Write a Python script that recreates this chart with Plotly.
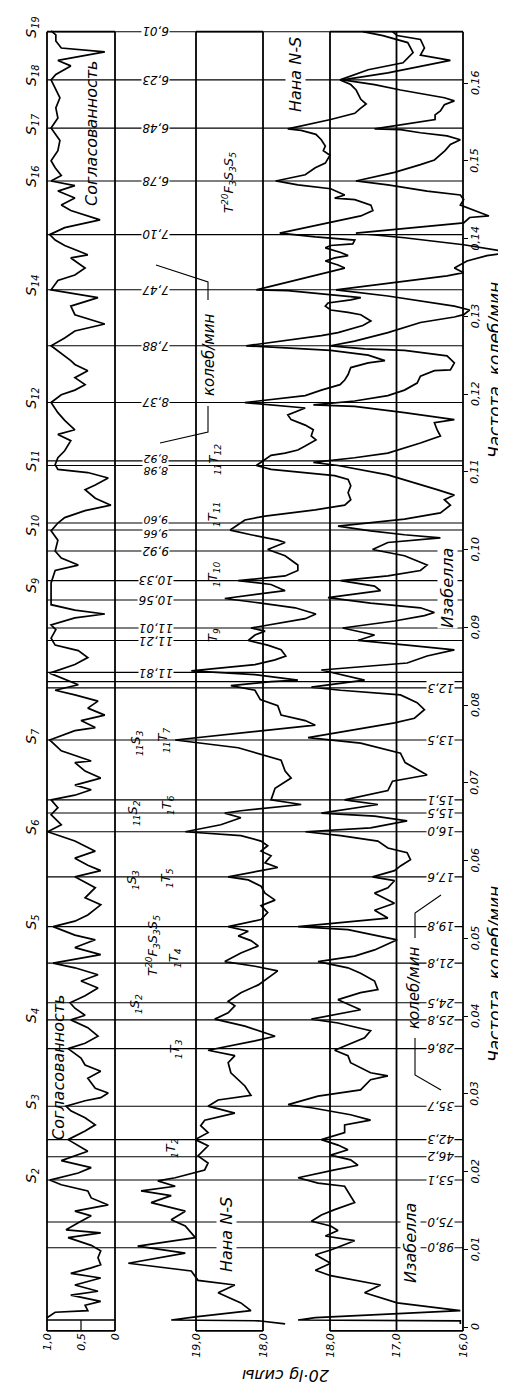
import plotly.graph_objects as go

# ---------------- data ----------------
# horizontal reference lines: printed period (min) and frequency where the line is drawn (cycles/min)
low_labels = ["98,0", "75,0", "53,1", "46,2", "42,3", "35,7", "28,6", "25,8", "24,5",
              "21,8", "19,8", "17,6", "16,0", "15,5", "15,1", "13,5", "12,3"]
low_freq = [0.0102, 0.0135, 0.0189, 0.0219, 0.0241, 0.0284, 0.0358, 0.0395, 0.0417,
            0.0468, 0.0515, 0.0579, 0.0637, 0.0661, 0.0678, 0.0755, 0.0822]
high_labels = ["11,81", "11,21", "11,01", "10,56", "10,33", "9,92", "9,66", "9,60", "8,98",
               "8,92", "8,37", "7,88", "7,47", "7,10", "6,78", "6,48", "6,23", "6,01"]
high_freq = [0.0842, 0.0883, 0.0899, 0.0935, 0.0960, 0.0998, 0.1025, 0.1034, 0.1108,
             0.1114, 0.1189, 0.1262, 0.1334, 0.1405, 0.1474, 0.1542, 0.1604, 0.1666]
join_freq = 0.0830          # seam between the two halves of the original drawing
panel_bottom, panel_top = -0.0005, 0.1666

s_index = ["2", "3", "4", "5", "6", "7", "9", "10", "11", "12", "14", "16", "17", "18", "19"]
s_freq = [0.0189, 0.0284, 0.0395, 0.0515, 0.0637, 0.0755, 0.0948, 0.1025, 0.1108,
          0.1189, 0.1334, 0.1474, 0.1542, 0.1604, 0.1666]

freq_ticks = [0, 0.01, 0.02, 0.03, 0.04, 0.05, 0.06, 0.07, 0.08, 0.09, 0.10, 0.11, 0.12, 0.13, 0.14, 0.15, 0.16]
freq_ticktext = ["0", "0,01", "0,02", "0,03", "0,04", "0,05", "0,06", "0,07", "0,08",
                 "0,09", "0,10", "0,11", "0,12", "0,13", "0,14", "0,15", "0,16"]

# coherence (0..1) vs frequency
coherence = [
    (0.0012, 1.0), (0.0019, 0.88), (0.0021, 0.40), (0.0028, 0.44), (0.0033, 0.21), (0.0041, 0.65),
    (0.0046, 0.25), (0.0054, 0.59), (0.0063, 0.21), (0.0069, 0.65), (0.0076, 0.35), (0.0080, 0.21),
    (0.0089, 0.25), (0.0098, 0.21), (0.0105, 0.35), (0.0115, 0.69), (0.0121, 0.21), (0.0125, 0.72),
    (0.0134, 0.54), (0.0143, 0.35), (0.0149, 0.59), (0.0157, 0.10), (0.0166, 0.35), (0.0175, 0.40),
    (0.0183, 0.79), (0.0189, 0.96), (0.0198, 0.54), (0.0205, 0.35), (0.0214, 0.79), (0.0217, 0.69),
    (0.0226, 0.40), (0.0241, 0.69), (0.0252, 0.44), (0.0260, 0.29), (0.0269, 0.44), (0.0278, 0.65),
    (0.0284, 0.72), (0.0291, 0.44), (0.0295, 0.21), (0.0301, 0.10), (0.0307, 0.29), (0.0320, 0.40),
    (0.0329, 0.21), (0.0337, 0.44), (0.0346, 0.50), (0.0358, 0.69), (0.0365, 0.44), (0.0374, 0.25),
    (0.0385, 0.40), (0.0395, 0.65), (0.0401, 0.44), (0.0410, 0.59), (0.0417, 0.66), (0.0426, 0.44),
    (0.0436, 0.25), (0.0445, 0.50), (0.0453, 0.25), (0.0462, 0.59), (0.0468, 0.91), (0.0479, 0.21),
    (0.0488, 0.59), (0.0498, 0.29), (0.0504, 0.59), (0.0515, 0.91), (0.0522, 0.59), (0.0530, 0.40),
    (0.0543, 0.21), (0.0552, 0.44), (0.0565, 0.29), (0.0579, 0.59), (0.0587, 0.21), (0.0594, 0.40),
    (0.0603, 0.59), (0.0612, 0.29), (0.0625, 0.59), (0.0637, 0.99), (0.0646, 0.79), (0.0659, 0.94),
    (0.0668, 0.84), (0.0678, 0.94), (0.0684, 0.59), (0.0691, 0.35), (0.0697, 0.59), (0.0706, 0.21),
    (0.0715, 0.44), (0.0726, 0.59), (0.0728, 0.35), (0.0741, 0.79), (0.0755, 0.96), (0.0767, 0.59),
    (0.0771, 0.29), (0.0780, 0.50), (0.0787, 0.15), (0.0796, 0.40), (0.0805, 0.25), (0.0813, 0.59),
    (0.0819, 0.88), (0.0826, 0.54), (0.0835, 0.79), (0.0841, 0.96), (0.0852, 0.59), (0.0861, 0.40),
    (0.0870, 0.54), (0.0877, 0.88), (0.0886, 0.94), (0.0897, 0.87), (0.0903, 0.94), (0.0912, 0.59),
    (0.0917, 0.15), (0.0922, 0.59), (0.0929, 0.94), (0.0957, 0.94), (0.0973, 0.88), (0.0980, 0.54),
    (0.0989, 0.79), (0.0998, 0.88), (0.1012, 0.84), (0.1024, 0.94), (0.1034, 0.84), (0.1041, 0.74),
    (0.1050, 0.44), (0.1057, 0.06), (0.1066, 0.29), (0.1077, 0.44), (0.1083, 0.29), (0.1092, 0.10),
    (0.1099, 0.40), (0.1103, 0.84), (0.1109, 0.88), (0.1118, 0.84), (0.1127, 0.74), (0.1140, 0.65),
    (0.1148, 0.84), (0.1154, 0.59), (0.1166, 0.74), (0.1176, 0.84), (0.1189, 0.94), (0.1199, 0.79),
    (0.1205, 0.59), (0.1212, 0.44), (0.1221, 0.59), (0.1230, 0.40), (0.1238, 0.59), (0.1243, 0.65),
    (0.1262, 0.94), (0.1272, 0.74), (0.1281, 0.59), (0.1290, 0.15), (0.1302, 0.59), (0.1313, 0.65),
    (0.1324, 0.25), (0.1334, 0.94), (0.1346, 0.84), (0.1353, 0.59), (0.1362, 0.44), (0.1375, 0.65),
    (0.1379, 0.40), (0.1391, 0.74), (0.1398, 0.88), (0.1405, 0.96), (0.1414, 0.74), (0.1424, 0.22),
    (0.1436, 0.65), (0.1443, 0.79), (0.1452, 0.59), (0.1461, 0.84), (0.1468, 0.59), (0.1474, 0.94),
    (0.1481, 0.79), (0.1491, 0.88), (0.1500, 0.94), (0.1513, 0.84), (0.1526, 0.81), (0.1542, 0.94),
    (0.1555, 0.84), (0.1568, 0.87), (0.1581, 0.81), (0.1594, 0.88), (0.1604, 0.94), (0.1611, 0.87),
    (0.1622, 0.65), (0.1629, 0.84), (0.1640, 0.15), (0.1645, 0.79), (0.1654, 0.87), (0.1662, 0.87),
    (0.1667, 0.94),
]

# Нана N-S, 20·lg of power vs frequency
nana = [
    (0.0004, 17.67), (0.0008, 18.07), (0.0009, 19.37), (0.0013, 19.01), (0.0021, 18.18), (0.0031, 18.33),
    (0.0044, 18.67), (0.0054, 18.42), (0.0060, 18.97), (0.0072, 19.07), (0.0082, 20.01), (0.0095, 19.16),
    (0.0104, 19.87), (0.0115, 19.01), (0.0130, 19.16), (0.0138, 19.37), (0.0149, 19.16), (0.0160, 19.67),
    (0.0169, 19.37), (0.0175, 19.82), (0.0181, 19.31), (0.0188, 19.57), (0.0192, 19.31), (0.0202, 18.87),
    (0.0211, 18.82), (0.0220, 18.97), (0.0233, 18.82), (0.0241, 19.01), (0.0250, 18.82), (0.0259, 18.93),
    (0.0266, 18.87), (0.0275, 18.42), (0.0284, 18.82), (0.0292, 18.67), (0.0298, 18.18), (0.0310, 18.27),
    (0.0327, 18.48), (0.0340, 18.52), (0.0349, 18.42), (0.0356, 18.82), (0.0368, 18.12), (0.0374, 17.82),
    (0.0387, 18.27), (0.0396, 18.72), (0.0404, 18.52), (0.0413, 18.42), (0.0419, 18.52), (0.0430, 18.33),
    (0.0440, 18.07), (0.0449, 17.93), (0.0458, 17.78), (0.0464, 18.12), (0.0470, 18.57), (0.0481, 18.33),
    (0.0490, 18.07), (0.0497, 18.18), (0.0503, 18.37), (0.0509, 18.22), (0.0515, 18.52), (0.0524, 18.03),
    (0.0533, 17.93), (0.0542, 18.03), (0.0549, 17.82), (0.0558, 17.97), (0.0567, 18.03), (0.0575, 18.22),
    (0.0579, 18.52), (0.0587, 18.03), (0.0591, 17.78), (0.0597, 17.97), (0.0606, 17.88), (0.0612, 18.03),
    (0.0619, 17.93), (0.0625, 18.03), (0.0632, 18.33), (0.0637, 19.16), (0.0646, 18.63), (0.0655, 18.33),
    (0.0661, 18.57), (0.0664, 18.33), (0.0672, 17.43), (0.0678, 17.88), (0.0693, 17.82), (0.0706, 17.58),
    (0.0715, 17.67), (0.0729, 17.73), (0.0745, 18.37), (0.0755, 19.31), (0.0771, 17.63), (0.0774, 17.22),
    (0.0780, 17.37), (0.0787, 17.73), (0.0799, 17.78), (0.0807, 18.04), (0.0819, 18.12), (0.0825, 18.48),
    (0.0830, 17.88), (0.0832, 17.48), (0.0839, 18.12), (0.0844, 19.07), (0.0852, 18.12), (0.0858, 17.82),
    (0.0863, 17.66), (0.0871, 17.73), (0.0877, 17.93), (0.0883, 18.22), (0.0890, 18.12), (0.0895, 17.97),
    (0.0899, 18.18), (0.0906, 17.67), (0.0911, 17.37), (0.0917, 17.21), (0.0925, 17.52), (0.0931, 18.03),
    (0.0937, 18.57), (0.0947, 17.67), (0.0955, 17.88), (0.0960, 18.37), (0.0966, 17.67), (0.0973, 17.48),
    (0.0980, 17.48), (0.0992, 17.67), (0.1000, 17.93), (0.1009, 17.67), (0.1012, 17.78), (0.1019, 18.18),
    (0.1025, 18.49), (0.1038, 18.27), (0.1043, 17.97), (0.1051, 17.22), (0.1057, 16.78), (0.1064, 16.69),
    (0.1073, 16.73), (0.1082, 16.69), (0.1090, 16.73), (0.1095, 16.93), (0.1099, 17.43), (0.1103, 17.88),
    (0.1108, 18.10), (0.1121, 17.88), (0.1124, 17.67), (0.1128, 17.48), (0.1133, 17.37), (0.1141, 17.21),
    (0.1146, 17.28), (0.1154, 17.25), (0.1160, 17.37), (0.1167, 17.58), (0.1173, 17.63), (0.1182, 17.37),
    (0.1189, 18.27), (0.1198, 17.37), (0.1205, 17.13), (0.1212, 16.85), (0.1218, 16.78), (0.1225, 16.73),
    (0.1234, 16.69), (0.1240, 16.43), (0.1243, 16.18), (0.1250, 16.43), (0.1256, 16.99), (0.1259, 17.63),
    (0.1262, 18.25), (0.1275, 17.13), (0.1279, 16.88), (0.1288, 16.51), (0.1294, 16.39), (0.1302, 16.54),
    (0.1305, 16.73), (0.1308, 16.99), (0.1313, 17.07), (0.1317, 17.03), (0.1321, 16.69), (0.1324, 16.54),
    (0.1328, 17.03), (0.1333, 17.63), (0.1334, 18.10), (0.1357, 16.99), (0.1362, 16.78), (0.1366, 16.88),
    (0.1371, 17.07), (0.1375, 16.93), (0.1378, 16.73), (0.1382, 16.84), (0.1388, 17.07), (0.1391, 16.99),
    (0.1393, 16.66), (0.1398, 16.63), (0.1402, 17.22), (0.1407, 17.75), (0.1423, 16.84), (0.1429, 16.54),
    (0.1436, 16.36), (0.1443, 16.39), (0.1450, 16.63), (0.1452, 16.93), (0.1456, 16.78), (0.1464, 16.99),
    (0.1469, 17.48), (0.1474, 17.81), (0.1482, 17.37), (0.1491, 17.22), (0.1497, 17.07), (0.1507, 17.00),
    (0.1513, 17.10), (0.1519, 17.07), (0.1527, 17.13), (0.1534, 17.21), (0.1539, 17.43), (0.1541, 17.63),
    (0.1553, 16.99), (0.1561, 16.63), (0.1567, 16.55), (0.1573, 16.46), (0.1579, 16.54), (0.1591, 16.61),
    (0.1598, 16.69), (0.1604, 16.85), (0.1617, 16.43), (0.1626, 15.91), (0.1639, 15.76), (0.1652, 15.84),
    (0.1661, 16.21), (0.1666, 16.51),
]

# Изабелла, 20·lg of power vs frequency
isabella = [
    (0.0004, 16.04), (0.0008, 16.04), (0.0009, 18.48), (0.0012, 18.22), (0.0021, 16.04), (0.0031, 16.99),
    (0.0044, 17.48), (0.0054, 17.24), (0.0066, 17.99), (0.0073, 18.22), (0.0082, 17.99), (0.0093, 18.22),
    (0.0099, 17.99), (0.0111, 17.63), (0.0117, 18.07), (0.0124, 17.88), (0.0130, 17.99), (0.0136, 18.28),
    (0.0144, 18.13), (0.0151, 17.93), (0.0160, 17.63), (0.0169, 17.69), (0.0181, 17.78), (0.0185, 18.18),
    (0.0192, 18.48), (0.0202, 17.93), (0.0208, 17.58), (0.0215, 17.69), (0.0221, 17.99), (0.0228, 17.73),
    (0.0234, 17.88), (0.0241, 18.13), (0.0250, 17.78), (0.0260, 17.78), (0.0266, 17.39), (0.0273, 17.69),
    (0.0282, 18.28), (0.0286, 18.63), (0.0297, 18.18), (0.0305, 17.54), (0.0318, 17.39), (0.0323, 17.13),
    (0.0327, 17.39), (0.0340, 17.69), (0.0349, 17.73), (0.0356, 17.93), (0.0363, 17.73), (0.0372, 17.48),
    (0.0381, 17.39), (0.0391, 17.88), (0.0396, 18.28), (0.0408, 17.54), (0.0421, 17.88), (0.0430, 17.54),
    (0.0434, 17.28), (0.0445, 17.33), (0.0455, 17.54), (0.0462, 17.73), (0.0470, 18.18), (0.0477, 17.63),
    (0.0485, 17.33), (0.0498, 16.99), (0.0511, 17.73), (0.0515, 18.48), (0.0526, 17.13), (0.0536, 17.33),
    (0.0545, 17.03), (0.0549, 17.13), (0.0558, 17.33), (0.0565, 17.13), (0.0574, 17.03), (0.0579, 17.36),
    (0.0587, 17.03), (0.0593, 16.94), (0.0601, 16.79), (0.0610, 16.84), (0.0616, 17.13), (0.0625, 17.28),
    (0.0632, 17.84), (0.0637, 18.37), (0.0642, 17.39), (0.0651, 16.84), (0.0657, 17.33), (0.0661, 18.13),
    (0.0672, 17.28), (0.0678, 17.78), (0.0690, 17.13), (0.0702, 17.06), (0.0710, 16.54), (0.0726, 16.87),
    (0.0738, 16.94), (0.0751, 17.54), (0.0758, 18.33), (0.0777, 17.03), (0.0783, 16.73), (0.0794, 16.58),
    (0.0803, 16.69), (0.0813, 16.94), (0.0819, 17.84), (0.0823, 18.28), (0.0832, 17.48), (0.0845, 18.13),
    (0.0854, 16.84), (0.0863, 16.54), (0.0871, 16.13), (0.0877, 16.84), (0.0883, 17.58), (0.0890, 17.33),
    (0.0899, 17.81), (0.0908, 17.03), (0.0915, 16.58), (0.0919, 16.43), (0.0925, 16.64), (0.0931, 17.39),
    (0.0938, 18.03), (0.0947, 17.24), (0.0953, 17.33), (0.0960, 17.84), (0.0966, 17.13), (0.0973, 16.64),
    (0.0980, 16.54), (0.0992, 16.88), (0.1000, 17.36), (0.1009, 17.13), (0.1015, 16.34), (0.1019, 16.88),
    (0.1024, 17.39), (0.1030, 17.88), (0.1039, 16.88), (0.1047, 16.34), (0.1057, 16.19), (0.1064, 16.28),
    (0.1070, 16.13), (0.1077, 16.39), (0.1096, 17.13), (0.1108, 17.88), (0.1112, 18.25), (0.1118, 17.63),
    (0.1124, 17.13), (0.1137, 16.64), (0.1146, 16.34), (0.1154, 16.39), (0.1163, 16.43), (0.1167, 16.13),
    (0.1176, 16.88), (0.1184, 17.63), (0.1186, 18.25), (0.1191, 17.63), (0.1198, 17.13), (0.1205, 16.88),
    (0.1214, 16.69), (0.1223, 16.64), (0.1230, 16.43), (0.1231, 16.19), (0.1240, 16.13), (0.1249, 16.24),
    (0.1256, 16.88), (0.1258, 17.48), (0.1262, 17.99), (0.1268, 17.63), (0.1279, 17.13), (0.1292, 16.64),
    (0.1299, 16.13), (0.1302, 15.99), (0.1308, 15.90), (0.1313, 16.13), (0.1320, 16.64), (0.1326, 17.13),
    (0.1334, 17.91), (0.1352, 16.24), (0.1356, 15.99), (0.1362, 16.13), (0.1371, 15.94), (0.1378, 15.64),
    (0.1382, 15.27), (0.1392, 15.99), (0.1401, 16.88), (0.1407, 17.61), (0.1420, 15.99), (0.1427, 15.90),
    (0.1429, 15.61), (0.1437, 15.84), (0.1443, 16.04), (0.1450, 15.99), (0.1456, 16.04), (0.1461, 16.54),
    (0.1469, 17.13), (0.1474, 17.61), (0.1485, 17.03), (0.1495, 16.64), (0.1501, 16.43), (0.1513, 16.27),
    (0.1521, 16.19), (0.1527, 16.04), (0.1532, 16.24), (0.1536, 16.64), (0.1540, 16.94), (0.1541, 17.33),
    (0.1549, 16.69), (0.1553, 16.42), (0.1559, 16.42), (0.1564, 16.34), (0.1572, 16.28), (0.1577, 16.13),
    (0.1581, 16.28), (0.1585, 16.54), (0.1591, 16.94), (0.1598, 17.33), (0.1604, 17.81), (0.1613, 17.13),
    (0.1629, 16.19), (0.1636, 16.64), (0.1645, 16.58), (0.1656, 16.64), (0.1661, 16.99), (0.1666, 17.06),
]

# ---------------- page geometry ----------------
W, H = 506, 1387
FONT = "DejaVu Sans"
INK = "black"


def span(px_a, val_a, px_b, val_b, size):
    # axis range so that the value val_a sits at pixel px_a and val_b at px_b
    k = (val_b - val_a) / (px_b - px_a)
    return [val_a - px_a * k, val_a + (size - px_a) * k]


coh_range = span(39, 1.0, 107, 0.0, W)
nana_range = span(188, 19.0, 255, 18.0, W)
isab_range = span(322, 18.0, 455, 16.0, W)
freq_range = [(1319 - H) / 7775, 1319 / 7775]


def px(x):
    return x / W


def py(y):
    return 1 - y / H


fig = go.Figure()
for pts, ax in ((coherence, "x"), (nana, "x2"), (isabella, "x3")):
    fig.add_trace(go.Scatter(
        x=[v for f, v in pts], y=[f for f, v in pts], mode="lines",
        line=dict(color=INK, width=1.7), xaxis=ax, yaxis="y",
        hoverinfo="skip", showlegend=False))

shapes = []


def seg(xref, x0, x1, y0, y1, width=1.8, yref="y"):
    shapes.append(dict(type="line", xref=xref, yref=yref, x0=x0, x1=x1, y0=y0, y1=y1,
                       line=dict(color=INK, width=width), layer="below"))


# panel frames
for xref, vals in (("x", [1.0, 0.0]), ("x2", [19.0, 18.0]), ("x3", [18.0, 17.0, 16.0])):
    for v in vals:
        seg(xref, v, v, panel_bottom, panel_top)
    seg(xref, vals[0], vals[-1], panel_bottom, panel_bottom)
    seg(xref, vals[0], vals[-1], panel_top, panel_top)
seg("x", 1.0, 0.0, 0.0009, 0.0009, width=1.4)
seg("x", 0.5, 0.5, panel_bottom, 0.0009, width=1.2)

# period lines and the seam between the halves
for f in low_freq + high_freq:
    seg("paper", px(39), px(455), f, f, width=1.1)
seg("paper", px(39), px(455), join_freq, join_freq, width=1.3)

# leader lines of the "колеб/мин" notes
for path in ([(148, 257), (200, 274), (200, 292)], [(152, 435), (200, 424), (200, 398)],
             [(407, 930), (407, 905), (433, 887)], [(407, 1030), (407, 1067), (433, 1082)]):
    d = "M " + " L ".join(f"{px(x):.5f},{py(y):.5f}" for x, y in path)
    shapes.append(dict(type="path", xref="paper", yref="paper", path=d,
                       line=dict(color=INK, width=1.1)))

annotations = []


def note(text, x, y=None, freq=None, angle=-90, size=13, bg=None, yshift=0):
    a = dict(text=f"<i>{text}</i>", x=px(x), xref="paper", showarrow=False, textangle=angle,
             xanchor="center", yanchor="middle",
             font=dict(family=FONT, size=size, color=INK), yshift=yshift)
    if freq is None:
        a.update(y=py(y), yref="paper")
    else:
        a.update(y=freq, yref="y")
    if bg:
        a.update(bgcolor=bg, borderpad=0)
    annotations.append(a)


# labels of close pairs of lines are pushed apart, as printed
label_shift = {"9,60": 3, "9,66": -4, "8,92": 3, "8,98": -5}
for lab, f in zip(low_labels, low_freq):
    note(lab, 433, freq=f, angle=180, size=12, bg="white")
for lab, f in zip(high_labels, high_freq):
    note(lab, 148, freq=f, angle=180, size=11 if lab in label_shift else 12, bg="white",
         yshift=label_shift.get(lab, 0))
for idx, f in zip(s_index, s_freq):
    note(f"S<sub>{idx}</sub>", 24, freq=f, size=14, yshift=4)

# frequency scale labels beside the right frame
for t, lab in zip(freq_ticks, freq_ticktext):
    note(lab, 467, freq=t, size=11)

# component labels
for text, x, y in (
    ("<sub>1</sub>T<sub>2</sub>", 163, 1140),
    ("<sub>1</sub>S<sub>2</sub>", 127, 996),
    ("<sub>1</sub>T<sub>3</sub>", 167, 1041),
    ("T<sup>20</sup>F<sub>3</sub>S<sub>3</sub>S<sub>5</sub>", 145, 938),
    ("<sub>1</sub>T<sub>4</sub>", 166, 950),
    ("<sub>1</sub>S<sub>3</sub>", 124, 872),
    ("<sub>1</sub>T<sub>5</sub>", 158, 870),
    ("<sub>11</sub>S<sub>2</sub>", 125, 805),
    ("<sub>1</sub>T<sub>6</sub>", 159, 797),
    ("<sub>11</sub>S<sub>3</sub>", 128, 735),
    ("<sub>11</sub>T<sub>7</sub>", 155, 732),
    ("T<sub>9</sub>", 205, 627),
    ("<sub>1</sub>T<sub>10</sub>", 205, 566),
    ("<sub>1</sub>T<sub>11</sub>", 205, 507),
    ("<sub>11</sub>T<sub>12</sub>", 206, 452),
    ("T<sup>20</sup>F<sub>3</sub>S<sub>3</sub>S<sub>5</sub>", 221, 175),
):
    note(text, x, y, size=13)

# panel names and axis titles
for text, x, y, size in (
    ("Согласованность", 50, 1060, 16), ("Согласованность", 83, 126, 16),
    ("Нана N-S", 218, 1227, 16), ("Нана N-S", 287, 67, 16),
    ("Изабелла", 402, 1235, 16), ("Изабелла", 439, 580, 16),
    ("колеб/мин", 201, 347, 15), ("колеб/мин", 406, 980, 15),
    ("Частота, колеб/мин", 487, 362, 17), ("Частота, колеб/мин", 487, 966, 17),
):
    note(text, x, y, size=size, bg="white" if "Нана" in text or "Изабелла" in text else None)
note("20·lg силы", 278, 1368, angle=180, size=16)

xpos = 1 - 1322 / H
common_x = dict(domain=[0, 1], anchor="free", position=xpos, showgrid=False, zeroline=False,
                showline=False, ticks="", tickangle=-90, automargin=False,
                tickfont=dict(family=FONT, size=11, color=INK))
fig.update_layout(
    width=W, height=H, template="none",
    margin=dict(l=0, r=0, t=0, b=0),
    paper_bgcolor="white", plot_bgcolor="white",
    font=dict(family=FONT, color=INK),
    showlegend=False,
    xaxis=dict(range=coh_range, tickvals=[1.0, 0.5, 0.0],
               ticktext=["<i>1,0</i>", "<i>0,5</i>", "<i>0</i>"], **common_x),
    xaxis2=dict(range=nana_range, overlaying="x", tickvals=[19.0, 18.0],
                ticktext=["<i>19,0</i>", "<i>18,0</i>"], **common_x),
    xaxis3=dict(range=isab_range, overlaying="x", tickvals=[18.0, 17.0, 16.0],
                ticktext=["<i>18,0</i>", "<i>17,0</i>", "<i>16,0</i>"], **common_x),
    yaxis=dict(range=freq_range, domain=[0, 1], anchor="free", position=455 / W, side="right",
               showgrid=False, zeroline=False, showline=False, ticks="outside", ticklen=4,
               tickcolor=INK, tickwidth=1.2, showticklabels=False, automargin=False,
               tickvals=freq_ticks),
    shapes=shapes,
    annotations=annotations,
)

fig.write_html("out.html")
